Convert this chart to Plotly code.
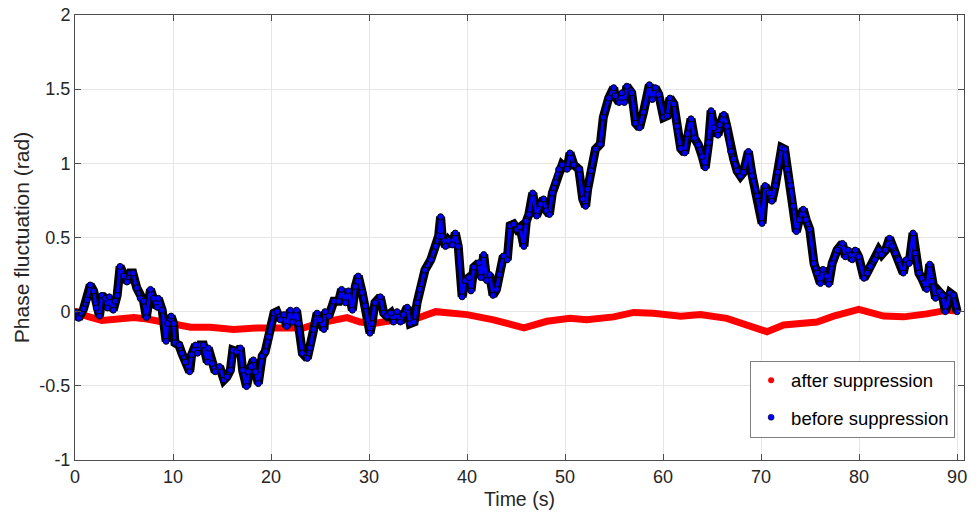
import plotly.graph_objects as go

# ---- data ----
before_t = [0, 0.37, 0.88, 1.22, 1.56, 1.9, 2.17, 2.5, 2.75, 3.1, 3.3, 3.5, 3.9, 4.1, 4.3, 4.6, 4.96, 5.3,
            5.64, 5.9, 6.3, 6.66, 7.0, 7.28, 7.7, 8.0, 8.37, 8.5, 8.9, 9.3, 9.45, 9.8, 10.06, 10.2, 10.6,
            10.9, 11.25, 11.7, 11.9, 12.3, 12.5, 12.8, 13.1, 13.5, 13.6, 14.0, 14.3, 14.75, 15.2, 15.5,
            15.85, 16.1, 16.5, 16.87, 17.1, 17.5, 17.7, 17.96, 18.2, 18.4, 18.7, 19.1, 19.4, 19.75, 20.3,
            20.6, 20.95, 21.3, 21.6, 21.97, 22.2, 22.6, 22.8, 23.2, 23.7, 24.0, 24.35, 24.7, 25.0, 25.4,
            25.5, 25.9, 26.4, 26.9, 27.2, 27.6, 27.9, 28.3, 28.6, 28.9, 29.3, 29.6, 30.1, 30.3, 30.6,
            31.15, 31.5, 31.8, 32.2, 32.5, 32.85, 33.2, 33.5, 33.9, 34.2, 34.6, 34.9, 35.2, 35.7, 36.3,
            36.8, 37.1, 37.3, 37.45, 37.8, 38.1, 38.5, 38.8, 39.1, 39.5, 39.8, 40.2, 40.4, 40.7, 41.2,
            41.4, 41.7, 42.0, 42.3, 42.65, 43.0, 43.3, 43.7, 44.1, 44.4, 44.75, 45.1, 45.4, 45.8, 46.05,
            46.3, 46.7, 47.1, 47.5, 47.8, 48.1, 48.4, 48.7, 49.0, 49.35, 49.7, 50.2, 50.5, 50.9, 51.4,
            51.8, 52.1, 52.3, 52.65, 53.1, 53.6, 53.9, 54.45, 54.96, 55.1, 55.5, 55.8, 56.05, 56.3, 56.7,
            56.8, 57.2, 57.6, 58.0, 58.6, 58.9, 59.2, 59.55, 60.05, 60.4, 60.7, 61.1, 61.4, 61.8, 62.2,
            62.5, 62.85, 63.2, 63.6, 64.0, 64.3, 64.65, 64.9, 65.2, 65.6, 65.8, 66.2, 66.5, 66.9, 67.2,
            67.55, 67.9, 68.2, 68.7, 69.1, 69.6, 70.1, 70.4, 70.8, 71.1, 71.45, 71.7, 72.1, 72.4, 72.65,
            73.0, 73.3, 73.6, 73.9, 74.3, 74.6, 74.96, 75.4, 75.7, 76.05, 76.3, 76.7, 76.9, 77.25, 77.75,
            78.3, 78.6, 78.9, 79.3, 79.6, 79.96, 80.5, 80.8, 81.15, 81.6, 82.0, 82.3, 82.7, 83.1, 83.4,
            83.7, 84.0, 84.5, 84.8, 85.1, 85.5, 85.7, 86.1, 86.4, 86.9, 87.2, 87.45, 87.8, 88.15, 88.5,
            88.8, 89.3, 89.6, 90.0]
before_phase = [0.0, -0.045, 0.02, 0.08, 0.18, 0.14, 0.025, -0.03, 0.11, 0.09, 0.025, 0.1, 0.01, 0.07,
                0.11, 0.305, 0.24, 0.2, 0.26, 0.26, 0.16, 0.09, 0.07, -0.04, 0.15, 0.09, 0.03, 0.09, 0.01,
                -0.2, -0.08, -0.03, -0.08, -0.21, -0.225, -0.28, -0.34, -0.405, -0.29, -0.225, -0.28,
                -0.225, -0.225, -0.34, -0.245, -0.35, -0.405, -0.37, -0.46, -0.44, -0.395, -0.26, -0.27,
                -0.245, -0.395, -0.505, -0.405, -0.37, -0.325, -0.405, -0.485, -0.3, -0.27, -0.17, -0.01,
                0.0, -0.055, -0.02, -0.1, 0.01, -0.07, 0.01, -0.08, -0.28, -0.315, -0.245, -0.12, -0.01,
                -0.055, -0.12, 0.0, -0.03, 0.07, 0.07, 0.15, 0.06, 0.14, 0.01, 0.17, 0.24, 0.13, 0.04,
                -0.145, -0.08, 0.06, 0.1, -0.01, -0.03, -0.01, -0.07, 0.0, -0.07, -0.02, 0.03, -0.08,
                -0.07, 0.06, 0.15, 0.28, 0.35, 0.44, 0.51, 0.64, 0.51, 0.44, 0.48, 0.45, 0.53, 0.44, 0.1,
                0.21, 0.23, 0.14, 0.3, 0.33, 0.23, 0.385, 0.21, 0.25, 0.11, 0.15, 0.25, 0.375, 0.35, 0.58,
                0.59, 0.555, 0.57, 0.44, 0.61, 0.655, 0.8, 0.645, 0.725, 0.76, 0.68, 0.655, 0.8, 0.87,
                0.96, 0.99, 0.96, 1.07, 0.99, 0.96, 0.76, 0.71, 0.825, 0.95, 1.095, 1.13, 1.31, 1.44,
                1.51, 1.455, 1.41, 1.475, 1.41, 1.52, 1.49, 1.475, 1.27, 1.24, 1.345, 1.53, 1.43, 1.51,
                1.465, 1.31, 1.32, 1.44, 1.4, 1.25, 1.1, 1.07, 1.2, 1.3, 1.17, 1.125, 1.045, 0.97, 1.14,
                1.355, 1.24, 1.19, 1.26, 1.33, 1.25, 1.08, 1.03, 0.95, 0.915, 0.94, 1.08, 0.915, 0.78,
                0.595, 0.85, 0.8, 0.745, 0.85, 0.94, 1.105, 1.095, 0.96, 0.85, 0.71, 0.54, 0.62, 0.69,
                0.62, 0.555, 0.325, 0.26, 0.19, 0.285, 0.24, 0.185, 0.325, 0.415, 0.46, 0.37, 0.415,
                0.35, 0.415, 0.37, 0.225, 0.26, 0.305, 0.35, 0.415, 0.385, 0.415, 0.495, 0.44, 0.395,
                0.35, 0.26, 0.35, 0.325, 0.53, 0.395, 0.26, 0.225, 0.15, 0.32, 0.205, 0.09, 0.135, 0.11,
                0.0, 0.125, 0.11, 0.0]

after_t = [0, 1.2, 2.75, 4.3, 6.0, 7.35, 8.7, 10.2, 11.8, 13.8, 16.2, 18.6, 20.3, 22.3, 23.3, 24.7,
           26.4, 27.75, 29.1, 30.5, 32.85, 34.9, 36.8, 40.0, 42.7, 45.8, 48.15, 50.5, 52.2, 53.6,
           54.96, 57.0, 59.0, 61.8, 63.8, 66.5, 68.6, 70.6, 72.3, 75.7, 77.4, 79.96, 82.5, 84.55,
           86.9, 89.0, 90.0]
after_phase = [0.005, -0.03, -0.06, -0.045, -0.04, -0.05, -0.07, -0.09, -0.105, -0.105, -0.12, -0.11,
               -0.11, -0.115, -0.11, -0.08, -0.055, -0.04, -0.07, -0.08, -0.055, -0.045, 0.0, -0.02,
               -0.055, -0.11, -0.065, -0.045, -0.055, -0.045, -0.035, -0.005, -0.01, -0.03, -0.02,
               -0.045, -0.09, -0.135, -0.09, -0.07, -0.03, 0.015, -0.03, -0.035, -0.015, 0.01, 0.005]

x_ticks = [0, 10, 20, 30, 40, 50, 60, 70, 80, 90]
y_ticks = [-1, -0.5, 0, 0.5, 1, 1.5, 2]
y_tick_labels = ["-1", "-0.5", "0", "0.5", "1", "1.5", "2"]

FONT = "Liberation Sans, Arial, sans-serif"
AX = "#4d4d4d"
TXT = "#262626"

fig = go.Figure()
fig.add_trace(go.Scatter(x=after_t, y=after_phase, mode="lines",
                         line=dict(color="#ff0000", width=7), showlegend=False, hoverinfo="skip"))
fig.add_trace(go.Scatter(x=before_t, y=before_phase, mode="lines",
                         line=dict(color="#000000", width=9), showlegend=False, hoverinfo="skip"))
fig.add_trace(go.Scatter(x=before_t, y=before_phase, mode="lines+markers",
                         line=dict(color="#0000ff", width=3),
                         marker=dict(color="#0000ff", size=6, line=dict(color="#000000", width=1)),
                         showlegend=False, hoverinfo="skip"))
# legend entries
fig.add_trace(go.Scatter(x=[None], y=[None], mode="markers", name="after suppression",
                         legendgroup="a", marker=dict(color="#ff0000", size=6)))
fig.add_trace(go.Scatter(x=[None], y=[None], mode="markers", name="before suppression",
                         legendgroup="b", marker=dict(color="#0000ff", size=6,
                                                      line=dict(color="#000000", width=0.5))))

fig.update_layout(
    width=979, height=519,
    margin=dict(l=75, r=15, t=15, b=59),
    paper_bgcolor="white", plot_bgcolor="white",
    font=dict(family=FONT, size=18, color=TXT),
    showlegend=True,
    legend=dict(x=0.99, y=0.05, xanchor="right", yanchor="bottom",
                bgcolor="white", bordercolor="#7f7f7f", borderwidth=1,
                font=dict(size=18.5, color="#000000"), tracegroupgap=10,
                itemwidth=30),
)
fig.update_xaxes(range=[0, 90.7], tickvals=x_ticks, ticktext=[str(v) for v in x_ticks],
                 automargin=False,
                 showgrid=True, gridcolor="#e6e6e6", gridwidth=1, zeroline=False,
                 showline=True, linecolor=AX, linewidth=1, mirror="allticks",
                 ticks="inside", ticklen=6, tickcolor=AX,
                 tickfont=dict(size=18, color=TXT),
                 title=dict(text="Time (s)", font=dict(size=19.5, color=TXT), standoff=6))
fig.update_yaxes(range=[-1, 2], tickvals=y_ticks, ticktext=y_tick_labels,
                 automargin=False, ticklabeloverflow="allow",
                 showgrid=True, gridcolor="#e6e6e6", gridwidth=1, zeroline=False,
                 showline=True, linecolor=AX, linewidth=1, mirror="allticks",
                 ticks="inside", ticklen=6, tickcolor=AX,
                 tickfont=dict(size=18, color=TXT),
                 title=dict(text="Phase fluctuation (rad)", font=dict(size=21, color=TXT), standoff=4))

# remove the page's default 8px body margin so the figure fills the window exactly
fig.write_html("out.html", config={"displayModeBar": False},
               post_script="document.body.style.margin='0px';")
